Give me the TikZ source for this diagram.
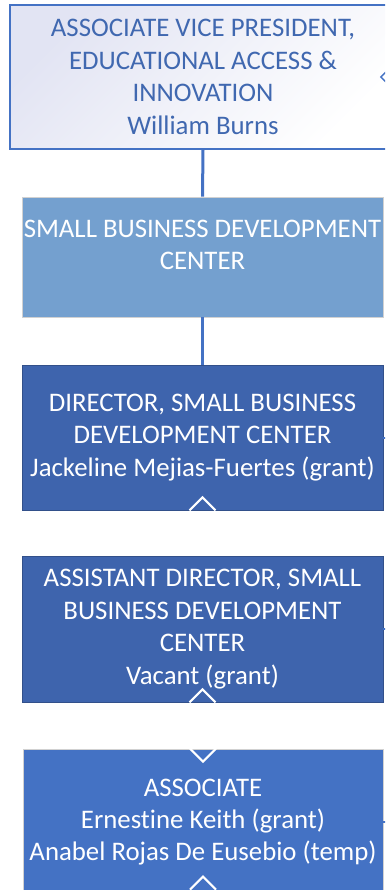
\documentclass[tikz,border=0pt]{standalone}
\usepackage{fontspec}
\setmainfont[Ligatures=NoCommon]{Carlito}
\usetikzlibrary{arrows,calc}
\definecolor{accent}{HTML}{4472C4}
\definecolor{avptext}{HTML}{4068B0}
\definecolor{sbdcfill}{HTML}{74A0CF}
\definecolor{darkfill}{HTML}{3E64AD}
\definecolor{lavender}{HTML}{E2E4F3}
\tikzset{
  post/.style={rectangle, inner sep=0pt, minimum width=361pt, minimum height=146pt, align=center, text=white, font=\fontsize{26.8}{32.4}\selectfont},
  tip/.style={draw=white, line width=2pt},
  link/.style={draw=accent, line width=3pt}
}

\begin{document}
\begin{tikzpicture}[x=1pt,y=-1pt]
\useasboundingbox (0,0) rectangle (385,890);
\clip (0,0) rectangle (385,890);
\node [post, draw=accent, line width=1.6pt, top color=lavender, bottom color=white, shading angle=45, minimum width=386pt, minimum height=144pt, text=avptext] (avp) at (203,77) {ASSOCIATE VICE PRESIDENT,\\EDUCATIONAL ACCESS \&\\INNOVATION\\William Burns};
\node [post, fill=sbdcfill, draw=black!18, line width=0.8pt, minimum height=120pt] (sbdc) at (202.5,257) {};
\node [align=center, text=white, font=\fontsize{26.8}{32.4}\selectfont] (sbdctext) at (202.5,245) {SMALL BUSINESS DEVELOPMENT\\CENTER};
\node [post, fill=darkfill, draw=darkfill!80!black, line width=0.8pt, minimum height=145pt] (dir) at (202.5,437.5) {DIRECTOR, SMALL BUSINESS\\DEVELOPMENT CENTER\\Jackeline Mejias-Fuertes (grant)};
\node [post, fill=darkfill, draw=darkfill!80!black, line width=0.8pt] (asst) at (202.5,629) {ASSISTANT DIRECTOR, SMALL\\BUSINESS DEVELOPMENT\\CENTER\\Vacant (grant)};
\node [post, fill=accent, draw=black!18, line width=0.8pt, minimum width=360pt] (assoc) at (203,822) {ASSOCIATE\\Ernestine Keith (grant)\\Anabel Rojas De Eusebio (temp)};

\draw [link] (avp.south) -- (sbdc.north);
\draw [link] (sbdc.south) -- (dir.north);

\draw [tip] ($(dir.south)+(-13,0)$) -- ($(dir.south)+(0,-13)$) -- ($(dir.south)+(13,0)$);
\draw [tip] ($(asst.south)+(-13,0)$) -- ($(asst.south)+(0,-13)$) -- ($(asst.south)+(13,0)$);
\draw [tip] ($(assoc.north)+(-13,0)$) -- ($(assoc.north)+(0,13)$) -- ($(assoc.north)+(13,0)$);
\draw [tip] ($(assoc.north)+(-13,141)$) -- ($(assoc.north)+(0,128)$) -- ($(assoc.north)+(13,141)$);

\draw [accent, line width=1.4pt] ($(avp.east)+(-11,-5)$) -- ($(avp.east)+(-16,0)$) -- ($(avp.east)+(-11,5)$);
\draw [accent, line width=2pt] (dir.east) -- ++(10,0);
\draw [accent, line width=2pt] (asst.east) -- ++(10,0);
\draw [accent, line width=2pt] (assoc.east) -- ++(10,0);
\end{tikzpicture}
\end{document}
